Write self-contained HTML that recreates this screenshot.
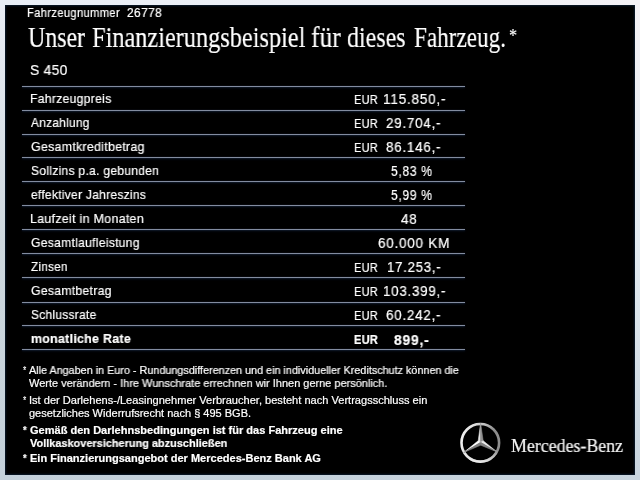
<!DOCTYPE html>
<html><head><meta charset="utf-8">
<style>
html,body{margin:0;padding:0;}
body{width:640px;height:480px;overflow:hidden;position:relative;background:linear-gradient(#eaeef6,#ced8de 50%,#c3d0da);font-family:"Liberation Sans",sans-serif;}
#fr{position:absolute;left:632px;top:0;width:8px;height:480px;background:linear-gradient(#f4f2f6,#e4ecf2 50%,#c8d4de);}
#ft{position:absolute;left:0;top:0;width:640px;height:6px;background:linear-gradient(to right,#e8eef6,#f4f2f6);}
#fb{position:absolute;left:0;top:472px;width:640px;height:8px;background:linear-gradient(to right,#c3d0da,#c8d4de);}
#panel{position:absolute;left:5px;top:5px;width:629.8px;height:469.6px;background:#000;box-shadow:inset 0 0 2px 1px #0a1a2c;}
.t{will-change:transform;-webkit-text-stroke:0.2px #fff;position:absolute;white-space:nowrap;color:#fff;transform-origin:0 0;line-height:normal;}
.s{font-family:"Liberation Serif",serif;}
.ln{position:absolute;left:22px;width:443.3px;height:1px;background:#828ca0;box-shadow:0 0 1px rgba(110,135,175,.55),0 1px 2px rgba(30,60,110,.5);}
</style></head><body>
<div id="fr"></div><div id="ft"></div><div id="fb"></div><div id="panel"></div>
<div class="ln" style="top:86px"></div>
<div class="ln" style="top:110px"></div>
<div class="ln" style="top:134px"></div>
<div class="ln" style="top:157.25px"></div>
<div class="ln" style="top:181px"></div>
<div class="ln" style="top:205px"></div>
<div class="ln" style="top:229px"></div>
<div class="ln" style="top:253px"></div>
<div class="ln" style="top:277px"></div>
<div class="ln" style="top:302.25px"></div>
<div class="ln" style="top:325px"></div>
<div class="ln" style="top:349px"></div>
<div class="t" id="fz" style="left:26.60px;top:5.75px;font-size:12px;letter-spacing:0.4px;transform:scaleX(0.9273);">Fahrzeugnummer</div>
<div class="t" id="fzn" style="left:127.00px;top:5.75px;font-size:12px;letter-spacing:0.4px;transform:scaleX(0.9916);">26778</div>
<div class="t s" id="h1" style="left:28.20px;top:21.20px;font-size:29px;transform:scaleX(0.8233);">Unser</div>
<div class="t s" id="h2" style="left:92.40px;top:21.20px;font-size:29px;transform:scaleX(0.8385);">Finanzierungsbeispiel</div>
<div class="t s" id="h3" style="left:311.30px;top:21.20px;font-size:29px;transform:scaleX(0.8768);">für</div>
<div class="t s" id="h4" style="left:347.42px;top:21.20px;font-size:29px;transform:scaleX(0.8263);">dieses</div>
<div class="t s" id="h5" style="left:414.30px;top:21.20px;font-size:29px;transform:scaleX(0.7981);">Fahrzeug.</div>
<div class="t s" id="h6" style="left:508.90px;top:25.30px;font-size:19px;transform:scaleX(0.8333);">*</div>
<div class="t" id="s450" style="left:29.80px;top:61.50px;font-size:14.3px;letter-spacing:0.3px;transform:scaleX(0.9712);">S 450</div>
<div class="t" id="l0" style="left:29.56px;top:91.20px;font-size:13px;letter-spacing:0.3px;transform:scaleX(0.9368);">Fahrzeugpreis</div>
<div class="t" id="l1" style="left:30.50px;top:115.20px;font-size:13px;letter-spacing:0.3px;transform:scaleX(0.9158);">Anzahlung</div>
<div class="t" id="l2" style="left:30.50px;top:139.20px;font-size:13px;letter-spacing:0.3px;transform:scaleX(0.9514);">Gesamtkreditbetrag</div>
<div class="t" id="l3" style="left:30.50px;top:163.20px;font-size:13px;letter-spacing:0.3px;transform:scaleX(0.9283);">Sollzins p.a. gebunden</div>
<div class="t" id="l4" style="left:30.50px;top:187.20px;font-size:13px;letter-spacing:0.3px;transform:scaleX(0.9238);">effektiver Jahreszins</div>
<div class="t" id="l5" style="left:29.54px;top:211.20px;font-size:13px;letter-spacing:0.3px;transform:scaleX(0.9564);">Laufzeit in Monaten</div>
<div class="t" id="l6" style="left:30.50px;top:235.20px;font-size:13px;letter-spacing:0.3px;transform:scaleX(0.9320);">Gesamtlaufleistung</div>
<div class="t" id="l7" style="left:30.50px;top:259.20px;font-size:13px;letter-spacing:0.3px;transform:scaleX(0.8997);">Zinsen</div>
<div class="t" id="l8" style="left:30.50px;top:283.20px;font-size:13px;letter-spacing:0.3px;transform:scaleX(0.9392);">Gesamtbetrag</div>
<div class="t" id="l9" style="left:30.50px;top:307.20px;font-size:13px;letter-spacing:0.3px;transform:scaleX(0.9195);">Schlussrate</div>
<div class="t" id="l10" style="left:30.50px;top:331.20px;font-size:13px;font-weight:bold;letter-spacing:0.3px;transform:scaleX(0.9532);">monatliche Rate</div>
<div class="t" id="e0" style="left:354.23px;top:93.00px;font-size:12.6px;letter-spacing:0.3px;transform:scaleX(0.8737);">EUR</div>
<div class="t" id="v0" style="left:382.80px;top:91.30px;font-size:14.3px;letter-spacing:0.8px;transform:scaleX(0.9501);">115.850,-</div>
<div class="t" id="e1" style="left:354.23px;top:117.00px;font-size:12.6px;letter-spacing:0.3px;transform:scaleX(0.8737);">EUR</div>
<div class="t" id="v1" style="left:385.75px;top:115.30px;font-size:14.3px;letter-spacing:0.8px;transform:scaleX(0.9391);">29.704,-</div>
<div class="t" id="e2" style="left:354.23px;top:141.00px;font-size:12.6px;letter-spacing:0.3px;transform:scaleX(0.8737);">EUR</div>
<div class="t" id="v2" style="left:385.75px;top:139.30px;font-size:14.3px;letter-spacing:0.8px;transform:scaleX(0.9391);">86.146,-</div>
<div class="t" id="v3" style="left:390.75px;top:163.30px;font-size:14.3px;letter-spacing:0.8px;transform:scaleX(0.8453);">5,83 %</div>
<div class="t" id="v4" style="left:390.75px;top:187.30px;font-size:14.3px;letter-spacing:0.8px;transform:scaleX(0.8453);">5,99 %</div>
<div class="t" id="v5" style="left:400.50px;top:211.30px;font-size:14.3px;letter-spacing:0.8px;transform:scaleX(0.9402);">48</div>
<div class="t" id="v6" style="left:378.15px;top:235.30px;font-size:14.3px;letter-spacing:0.8px;transform:scaleX(0.9439);">60.000 KM</div>
<div class="t" id="e7" style="left:354.23px;top:261.00px;font-size:12.6px;letter-spacing:0.3px;transform:scaleX(0.8737);">EUR</div>
<div class="t" id="v7" style="left:386.58px;top:259.30px;font-size:14.3px;letter-spacing:0.8px;transform:scaleX(0.9249);">17.253,-</div>
<div class="t" id="e8" style="left:354.23px;top:285.00px;font-size:12.6px;letter-spacing:0.3px;transform:scaleX(0.8737);">EUR</div>
<div class="t" id="v8" style="left:382.82px;top:283.30px;font-size:14.3px;letter-spacing:0.8px;transform:scaleX(0.9349);">103.399,-</div>
<div class="t" id="e9" style="left:354.23px;top:309.00px;font-size:12.6px;letter-spacing:0.3px;transform:scaleX(0.8737);">EUR</div>
<div class="t" id="v9" style="left:385.75px;top:307.30px;font-size:14.3px;letter-spacing:0.8px;transform:scaleX(0.9391);">60.242,-</div>
<div class="t" id="e10" style="left:353.75px;top:333.25px;font-size:12.6px;font-weight:bold;letter-spacing:0.3px;transform:scaleX(0.8766);">EUR</div>
<div class="t" id="v10" style="left:393.75px;top:331.50px;font-size:14.3px;font-weight:bold;letter-spacing:0.8px;transform:scaleX(0.9715);">899,-</div>
<div class="t" id="a1" style="left:23.20px;top:364.25px;font-size:11px;transform:scaleX(0.7600);">*</div>
<div class="t" id="f1a" style="left:29.25px;top:364.25px;font-size:11px;transform:scaleX(0.9822);">Alle Angaben in Euro - Rundungsdifferenzen und ein individueller Kreditschutz können die</div>
<div class="t" id="f1b" style="left:29.25px;top:376.75px;font-size:11px;transform:scaleX(0.9961);">Werte verändern - Ihre Wunschrate errechnen wir Ihnen gerne persönlich.</div>
<div class="t" id="a2" style="left:23.20px;top:393.75px;font-size:11px;transform:scaleX(0.7600);">*</div>
<div class="t" id="f2a" style="left:28.74px;top:393.75px;font-size:11px;transform:scaleX(1.0054);">Ist der Darlehens-/Leasingnehmer Verbraucher, besteht nach Vertragsschluss ein</div>
<div class="t" id="f2b" style="left:29.25px;top:406.75px;font-size:11px;transform:scaleX(1.0005);">gesetzliches Widerrufsrecht nach § 495 BGB.</div>
<div class="t" id="a3" style="left:22.80px;top:423.50px;font-size:11px;font-weight:bold;transform:scaleX(0.8600);">*</div>
<div class="t" id="f3a" style="left:29.50px;top:423.50px;font-size:11px;font-weight:bold;transform:scaleX(1.0029);">Gemäß den Darlehnsbedingungen ist für das Fahrzeug eine</div>
<div class="t" id="f3b" style="left:30.00px;top:437.20px;font-size:11px;font-weight:bold;transform:scaleX(0.9937);">Vollkaskoversicherung abzuschließen</div>
<div class="t" id="a4" style="left:22.80px;top:451.80px;font-size:11px;font-weight:bold;transform:scaleX(0.8600);">*</div>
<div class="t" id="f4" style="left:30.00px;top:451.80px;font-size:11px;font-weight:bold;transform:scaleX(1.0013);">Ein Finanzierungsangebot der Mercedes-Benz Bank AG</div>
<div class="t s" id="mb" style="left:511.20px;top:435.70px;font-size:18px;color:#f4f4f4;transform:scaleX(0.9916);">Mercedes-Benz</div>
<svg id="logo" style="position:absolute;left:456px;top:418px;" width="50" height="50" viewBox="456 418 50 50">
<defs>
<linearGradient id="rg" x1="0" y1="0.3" x2="1" y2="0.5">
<stop offset="0" stop-color="#f4f4f4"/><stop offset="0.3" stop-color="#cfcfcf"/><stop offset="0.75" stop-color="#8a8a8a"/><stop offset="1" stop-color="#8e8e8e"/>
</linearGradient>
<linearGradient id="rg2" x1="0" y1="0" x2="0" y2="1">
<stop offset="0" stop-color="#fff" stop-opacity="0.25"/><stop offset="0.2" stop-color="#fff" stop-opacity="0"/><stop offset="0.7" stop-color="#fff" stop-opacity="0"/><stop offset="1" stop-color="#fff" stop-opacity="0.75"/>
</linearGradient>
</defs>
<circle cx="480.3" cy="442.8" r="18.8" fill="none" stroke="url(#rg)" stroke-width="2.6"/>
<circle cx="480.3" cy="442.8" r="18.8" fill="none" stroke="url(#rg2)" stroke-width="2.6"/>
<g>
<polygon points="480.6,423.2 480.6,442.3 478.2,440.8" fill="#e4e4e4" stroke="#e4e4e4" stroke-width="0.55" stroke-linejoin="round"/>
<polygon points="480.6,423.2 480.6,442.3 483.2,440.8" fill="#909090" stroke="#909090" stroke-width="0.55" stroke-linejoin="round"/>
<polygon points="463.6,452.6 480.6,442.3 478.2,440.8" fill="#ffffff" stroke="#ffffff" stroke-width="0.55" stroke-linejoin="round"/>
<polygon points="463.6,452.6 480.6,442.3 480.7,445.2" fill="#808080" stroke="#808080" stroke-width="0.55" stroke-linejoin="round"/>
<polygon points="497.0,451.9 480.6,442.3 483.2,440.8" fill="#ececec" stroke="#ececec" stroke-width="0.55" stroke-linejoin="round"/>
<polygon points="497.0,451.9 480.6,442.3 480.7,445.2" fill="#828282" stroke="#828282" stroke-width="0.55" stroke-linejoin="round"/>
</g>
</svg>
</body></html>
